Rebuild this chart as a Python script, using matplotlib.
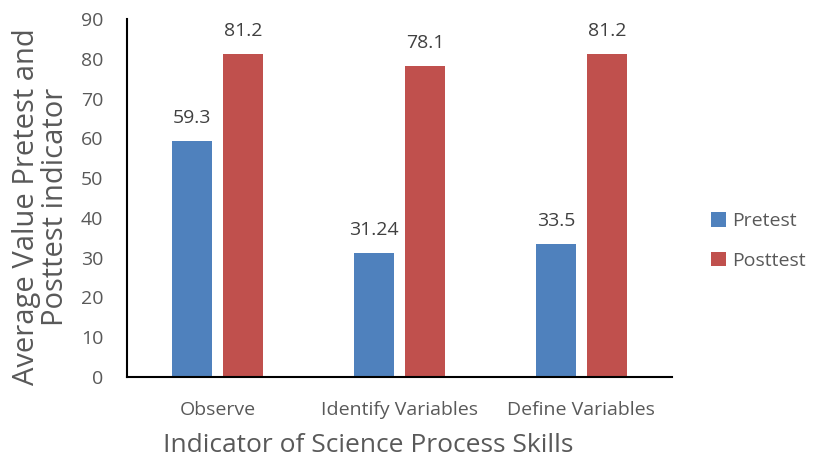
import numpy as np
import matplotlib.pyplot as plt

categories = ["Observe", "Identify Variables", "Define Variables"]
pretest = [59.3, 31.24, 33.5]
posttest = [81.2, 78.1, 81.2]
pre_labels = ["59.3", "31.24", "33.5"]
post_labels = ["81.2", "78.1", "81.2"]

plt.rcParams['font.family'] = ['Open Sans', 'DejaVu Sans']
gray = '#595959'

fig = plt.figure(figsize=(8.15, 4.62), dpi=100)
ax = fig.add_axes([0.1558, 0.184, 0.669, 0.775])

x = np.arange(len(categories))
w = 0.22
off = 0.14
b1 = ax.bar(x - off, pretest, w, color='#4F81BD', label='Pretest')
b2 = ax.bar(x + off, posttest, w, color='#C0504D', label='Posttest')

for rects, labs in ((b1, pre_labels), (b2, post_labels)):
    for r, t in zip(rects, labs):
        ax.annotate(t, (r.get_x() + r.get_width() / 2, r.get_height()),
                    xytext=(0, 10), textcoords='offset points',
                    ha='center', va='bottom', fontsize=14, color='#404040')

ax.set_xlim(-0.5, 2.5)
ax.set_ylim(0, 90)
ax.set_yticks(range(0, 91, 10))
ax.set_xticks(x)
ax.set_xticklabels(categories)
ax.tick_params(length=0, labelsize=14, labelcolor=gray)
ax.tick_params(axis='x', pad=17)
ax.tick_params(axis='y', pad=17)

for s in ('top', 'right'):
    ax.spines[s].set_visible(False)
for s in ('left', 'bottom'):
    ax.spines[s].set_linewidth(1.5)
    ax.spines[s].set_color('black')

# axis titles placed like the original (x title sits left of centre)
fig.text(368 / 815, 1 - 446 / 462, 'Indicator of Science Process Skills',
         fontsize=19, color=gray, ha='center', va='center')
fig.text(41 / 815, 1 - 207 / 462, 'Average Value Pretest and\nPosttest indicator',
         fontsize=21, color=gray, ha='center', va='center', rotation=90,
         linespacing=1.0, multialignment='center')

leg = ax.legend(loc='center left', bbox_to_anchor=((711 - 127) / 545, 0.38), frameon=False,
                fontsize=14, labelspacing=1.1, handlelength=0.75, handleheight=0.75,
                handletextpad=0.35, borderpad=0, borderaxespad=0, labelcolor=gray)

fig.savefig('out.png', dpi=100)
